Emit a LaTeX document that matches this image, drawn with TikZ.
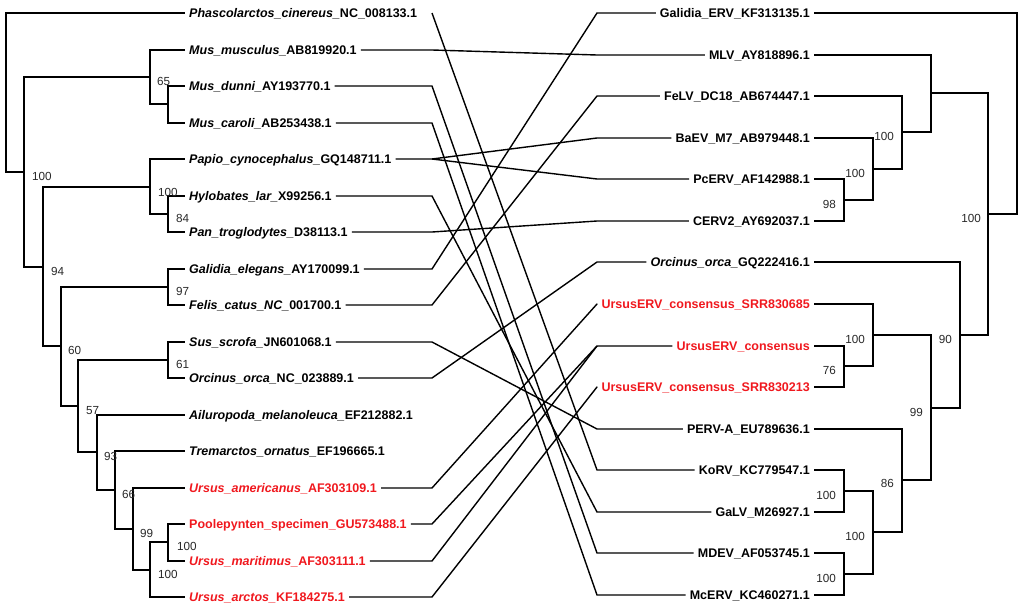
\documentclass[tikz,border=0pt]{standalone}
\usepackage{fontspec}
\setmainfont{Liberation Sans}
\usetikzlibrary{calc}
\definecolor{ured}{RGB}{240,24,30}
\definecolor{bsgray}{RGB}{40,40,40}
\begin{document}
\begin{tikzpicture}[x=1pt,y=-1pt,
  br/.style={line width=1.8pt,line join=miter},
  cn/.style={line width=1.4pt,line join=miter},
  lab/.style={inner sep=4pt,font=\bfseries\fontsize{12.5}{14}\selectfont,text height=9pt,text depth=0pt},
  leafL/.style={lab,anchor=west},
  leafR/.style={lab,anchor=east},
  hl/.style={text=ured},
  bs/.style={inner sep=0pt,font=\fontsize{11.7}{13}\selectfont,text=bsgray,text height=8.4pt,text depth=0pt},
  bsL/.style={bs,anchor=west},
  bsR/.style={bs,anchor=east}]
\useasboundingbox (0,0) rectangle (1024,610);

% ---------- left leaves ----------
\node[leafL] (L1) at (185,13) {\textit{Phascolarctos\_cinereus\_}NC\_008133.1};
\node[leafL] (L2) at (185,50) {\textit{Mus\_musculus\_}AB819920.1};
\node[leafL] (L3) at (185,86) {\textit{Mus\_dunni\_}AY193770.1};
\node[leafL] (L4) at (185,123) {\textit{Mus\_caroli\_}AB253438.1};
\node[leafL] (L5) at (185,159) {\textit{Papio\_cynocephalus\_}GQ148711.1};
\node[leafL] (L6) at (185,196) {\textit{Hylobates\_lar\_}X99256.1};
\node[leafL] (L7) at (185,232) {\textit{Pan\_troglodytes\_}D38113.1};
\node[leafL] (L8) at (185,269) {\textit{Galidia\_elegans\_}AY170099.1};
\node[leafL] (L9) at (185,305) {\textit{Felis\_catus\_NC\_}001700.1};
\node[leafL] (L10) at (185,342) {\textit{Sus\_scrofa\_}JN601068.1};
\node[leafL] (L11) at (185,378) {\textit{Orcinus\_orca\_}NC\_023889.1};
\node[leafL] (L12) at (185,415) {\textit{Ailuropoda\_melanoleuca\_}EF212882.1};
\node[leafL] (L13) at (185,451) {\textit{Tremarctos\_ornatus\_}EF196665.1};
\node[leafL,hl] (L14) at (185,488) {\textit{Ursus\_americanus\_}AF303109.1};
\node[leafL,hl] (L15) at (185,524) {Poolepynten\_specimen\_GU573488.1};
\node[leafL,hl] (L16) at (185,561) {\textit{Ursus\_maritimus\_}AF303111.1};
\node[leafL,hl] (L17) at (185,597) {\textit{Ursus\_arctos\_}KF184275.1};

% ---------- right leaves ----------
\node[leafR] (R1) at (814,13) {Galidia\_ERV\_KF313135.1};
\node[leafR] (R2) at (814,55) {MLV\_AY818896.1};
\node[leafR] (R3) at (814,96) {FeLV\_DC18\_AB674447.1};
\node[leafR] (R4) at (814,138) {BaEV\_M7\_AB979448.1};
\node[leafR] (R5) at (814,179) {PcERV\_AF142988.1};
\node[leafR] (R6) at (814,221) {CERV2\_AY692037.1};
\node[leafR] (R7) at (814,262) {\textit{Orcinus\_orca\_}GQ222416.1};
\node[leafR,hl] (R8) at (814,304) {UrsusERV\_consensus\_SRR830685};
\node[leafR,hl] (R9) at (814,346) {UrsusERV\_consensus};
\node[leafR,hl] (R10) at (814,387) {UrsusERV\_consensus\_SRR830213};
\node[leafR] (R11) at (814,429) {PERV-A\_EU789636.1};
\node[leafR] (R12) at (814,470) {KoRV\_KC779547.1};
\node[leafR] (R13) at (814,512) {GaLV\_M26927.1};
\node[leafR] (R14) at (814,553) {MDEV\_AF053745.1};
\node[leafR] (R15) at (814,595) {McERV\_KC460271.1};

% ---------- left internal nodes ----------
\coordinate (DC) at (168,104);
\coordinate (MC) at (150,77);
\coordinate (HP) at (168,214);
\coordinate (P) at (150,187);
\coordinate (GF) at (168,287);
\coordinate (SO) at (168,360);
\coordinate (N9) at (168,542);
\coordinate (N8) at (150,570);
\coordinate (N7) at (133,529);
\coordinate (N6) at (115,490);
\coordinate (N5) at (97,452);
\coordinate (N4) at (78,406);
\coordinate (N3) at (61,346);
\coordinate (N2) at (43,267);
\coordinate (N1) at (24,172);
\coordinate (RL) at (6,92);

\draw[br] (RL) |- (L1.west);
\draw[br] (RL) |- (N1);
\draw[br] (N1) |- (MC);
\draw[br] (N1) |- (N2);
\draw[br] (MC) |- (L2.west);
\draw[br] (MC) |- (DC);
\draw[br] (DC) |- (L3.west);
\draw[br] (DC) |- (L4.west);
\draw[br] (N2) |- (P);
\draw[br] (N2) |- (N3);
\draw[br] (P) |- (L5.west);
\draw[br] (P) |- (HP);
\draw[br] (HP) |- (L6.west);
\draw[br] (HP) |- (L7.west);
\draw[br] (N3) |- (GF);
\draw[br] (N3) |- (N4);
\draw[br] (GF) |- (L8.west);
\draw[br] (GF) |- (L9.west);
\draw[br] (N4) |- (SO);
\draw[br] (N4) |- (N5);
\draw[br] (SO) |- (L10.west);
\draw[br] (SO) |- (L11.west);
\draw[br] (N5) |- (L12.west);
\draw[br] (N5) |- (N6);
\draw[br] (N6) |- (L13.west);
\draw[br] (N6) |- (N7);
\draw[br] (N7) |- (L14.west);
\draw[br] (N7) |- (N8);
\draw[br] (N8) |- (N9);
\draw[br] (N8) |- (L17.west);
\draw[br] (N9) |- (L15.west);
\draw[br] (N9) |- (L16.west);

\node[bsL] (bN1) at ($(N1)+(8,4)$) {100};
\node[bsL] (bMC) at ($(MC)+(7,4)$) {65};
\node[bsL] (bN2) at ($(N2)+(8,4)$) {94};
\node[bsL] (bP) at ($(P)+(8,5)$) {100};
\node[bsL] (bHP) at ($(HP)+(8,4)$) {84};
\node[bsL] (bN3) at ($(N3)+(7,4)$) {60};
\node[bsL] (bGF) at ($(GF)+(8,4)$) {97};
\node[bsL] (bN4) at ($(N4)+(8,4)$) {57};
\node[bsL] (bSO) at ($(SO)+(8,4)$) {61};
\node[bsL] (bN5) at ($(N5)+(7,4)$) {93};
\node[bsL] (bN6) at ($(N6)+(7,4)$) {66};
\node[bsL] (bN7) at ($(N7)+(7,4)$) {99};
\node[bsL] (bN8) at ($(N8)+(8,4)$) {100};
\node[bsL] (bN9) at ($(N9)+(9,4)$) {100};

% ---------- right internal nodes ----------
\coordinate (E) at (844,200);
\coordinate (D) at (873,169);
\coordinate (C) at (902,132);
\coordinate (B) at (931,93);
\coordinate (I) at (844,366);
\coordinate (H) at (873,335);
\coordinate (L) at (844,491);
\coordinate (M) at (844,574);
\coordinate (K) at (873,532);
\coordinate (J) at (902,480);
\coordinate (G) at (931,408);
\coordinate (F) at (960,335);
\coordinate (A) at (988,214);
\coordinate (RR) at (1017,113);

\draw[br] (RR) |- (R1.east);
\draw[br] (RR) |- (A);
\draw[br] (A) |- (B);
\draw[br] (A) |- (F);
\draw[br] (B) |- (R2.east);
\draw[br] (B) |- (C);
\draw[br] (C) |- (R3.east);
\draw[br] (C) |- (D);
\draw[br] (D) |- (R4.east);
\draw[br] (D) |- (E);
\draw[br] (E) |- (R5.east);
\draw[br] (E) |- (R6.east);
\draw[br] (F) |- (R7.east);
\draw[br] (F) |- (G);
\draw[br] (G) |- (H);
\draw[br] (G) |- (J);
\draw[br] (H) |- (R8.east);
\draw[br] (H) |- (I);
\draw[br] (I) |- (R9.east);
\draw[br] (I) |- (R10.east);
\draw[br] (J) |- (R11.east);
\draw[br] (J) |- (K);
\draw[br] (K) |- (L);
\draw[br] (K) |- (M);
\draw[br] (L) |- (R12.east);
\draw[br] (L) |- (R13.east);
\draw[br] (M) |- (R14.east);
\draw[br] (M) |- (R15.east);

\node[bsR] (bA) at ($(A)+(-7,4)$) {100};
\node[bsR] (bC) at ($(C)+(-8,4)$) {100};
\node[bsR] (bD) at ($(D)+(-8,4)$) {100};
\node[bsR] (bE) at ($(E)+(-8,4)$) {98};
\node[bsR] (bF) at ($(F)+(-8,4)$) {90};
\node[bsR] (bG) at ($(G)+(-8,4)$) {99};
\node[bsR] (bH) at ($(H)+(-8,4)$) {100};
\node[bsR] (bI) at ($(I)+(-8,4)$) {76};
\node[bsR] (bJ) at ($(J)+(-8,3)$) {86};
\node[bsR] (bK) at ($(K)+(-8,4)$) {100};
\node[bsR] (bL) at ($(L)+(-8,4)$) {100};
\node[bsR] (bM) at ($(M)+(-8,4)$) {100};

% ---------- connectors ----------
\coordinate (kL) at (432,0);
\coordinate (kR) at (597,0);
\draw[cn] (L1.east -| kL) -- (R12.west -| kR) -- (R12.west);
\draw[cn] (L2.east) -- (L2.east -| kL) -- (R2.west -| kR) -- (R2.west);
\draw[cn] (L3.east) -- (L3.east -| kL) -- (R14.west -| kR) -- (R14.west);
\draw[cn] (L4.east) -- (L4.east -| kL) -- (R15.west -| kR) -- (R15.west);
\draw[cn] (L5.east) -- (L5.east -| kL) -- (R4.west -| kR) -- (R4.west);
\draw[cn] (L5.east -| kL) -- (R5.west -| kR) -- (R5.west);
\draw[cn] (L6.east) -- (L6.east -| kL) -- (R13.west -| kR) -- (R13.west);
\draw[cn] (L7.east) -- (L7.east -| kL) -- (R6.west -| kR) -- (R6.west);
\draw[cn] (L8.east) -- (L8.east -| kL) -- (R1.west -| kR) -- (R1.west);
\draw[cn] (L9.east) -- (L9.east -| kL) -- (R3.west -| kR) -- (R3.west);
\draw[cn] (L10.east) -- (L10.east -| kL) -- (R11.west -| kR) -- (R11.west);
\draw[cn] (L11.east) -- (L11.east -| kL) -- (R7.west -| kR) -- (R7.west);
\draw[cn] (L14.east) -- (L14.east -| kL) -- (R8.west -| kR) -- (R8.west);
\draw[cn] (L15.east) -- (L15.east -| kL) -- (R9.west -| kR) -- (R9.west);
\draw[cn] (L16.east) -- (L16.east -| kL) -- (R9.west -| kR);
\draw[cn] (L17.east) -- (L17.east -| kL) -- (R10.west -| kR) -- (R10.west);
\end{tikzpicture}
\end{document}
